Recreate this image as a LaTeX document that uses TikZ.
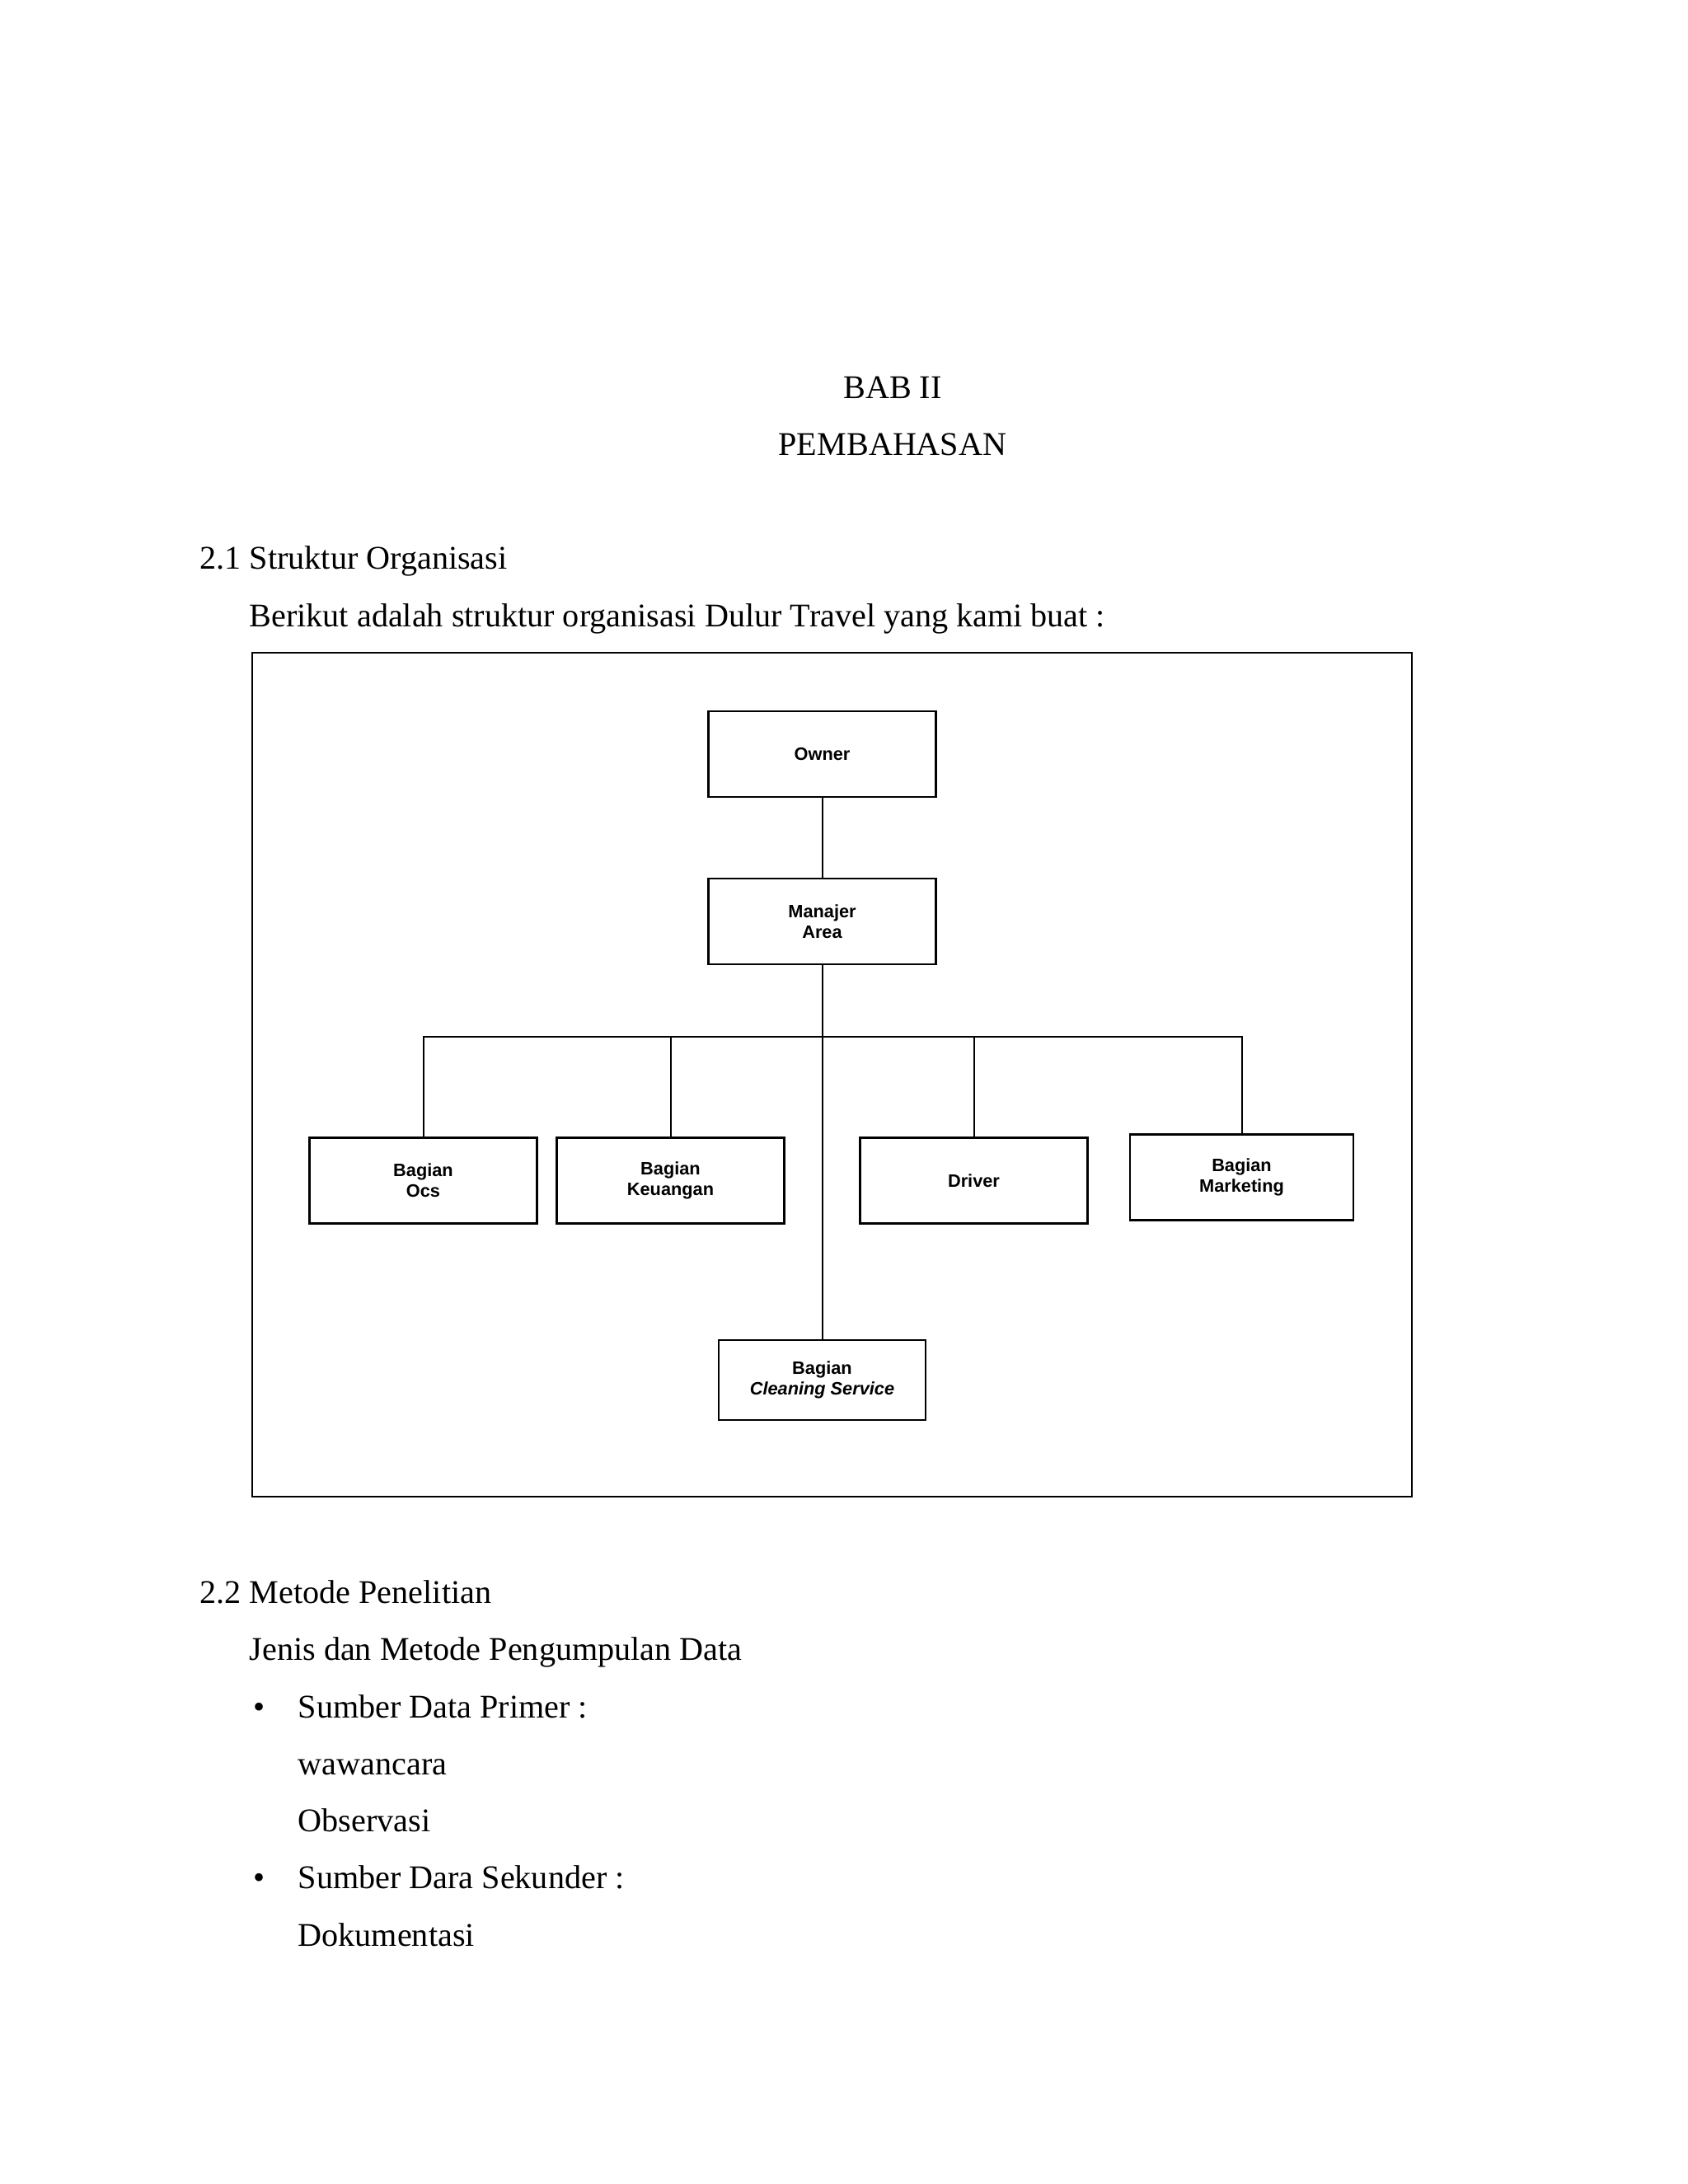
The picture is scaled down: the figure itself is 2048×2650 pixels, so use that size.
\documentclass[tikz,border=0pt]{standalone}
\usepackage{fontspec}
\setmainfont{Liberation Serif}
\newfontfamily\chartfont{Liberation Sans}
\usetikzlibrary{positioning}

\tikzset{
  unit/.style={draw, line width=0.7pt, minimum width=82.5pt, minimum height=31pt,
    align=center, inner sep=1pt, font=\chartfont\bfseries\fontsize{6.5}{7.5}\selectfont},
  body/.style={anchor=base west, inner sep=0pt, font=\fontsize{12}{14}\selectfont},
  title/.style={anchor=base, inner sep=0pt, font=\fontsize{12}{14}\selectfont},
}

\begin{document}
\begin{tikzpicture}[x=0.298828pt, y=-0.298828pt]
  \useasboundingbox (0, 0) rectangle (2048, 2650);

  % page heading
  \node[title] (bab) at (1083, 483) {BAB II};
  \node[title] (pembahasan) at (1083, 552) {PEMBAHASAN};

  \node[body] (sec21) at (242, 690) {2.1 Struktur Organisasi};
  \node[body] (intro) at (302, 760) {Berikut adalah struktur organisasi Dulur Travel yang kami buat :};

  % frame round the chart
  \draw[line width=0.6pt] (306, 792) rectangle (1713, 1816);

  % chart
  \node[unit] (owner) at (997.5, 915) {Owner};
  \node[unit] (manajer) at (997.5, 1118) {Manajer\\Area};
  \node[unit] (ocs) at (513.5, 1432.5) {Bagian\\Ocs};
  \node[unit] (keuangan) at (813.5, 1432.5) {Bagian\\Keuangan};
  \node[unit] (driver) at (1181.5, 1432.5) {Driver};
  \node[unit, minimum width=81pt] (marketing) at (1506.5, 1428.5) {Bagian\\Marketing};
  \node[unit, minimum width=75pt, minimum height=29pt] (cleaning) at (997.5, 1674.5) {Bagian\\\textit{Cleaning Service}};

  \coordinate (bus) at (997.5, 1258);

  \draw[line width=0.6pt] (owner) -- (manajer);
  \draw[line width=0.6pt] (manajer) -- (cleaning);
  \draw[line width=0.6pt] (ocs.north) |- (bus) -| (marketing.north);
  \foreach \n in {keuangan, driver} {
    \draw[line width=0.6pt] (\n.north) -- (\n.north |- bus);
  }

  % method section
  \node[body] (sec22) at (242, 1945) {2.2 Metode Penelitian};
  \node[body] (jenis) at (302, 2014) {Jenis dan Metode Pengumpulan Data};
  \node[body] (dot1) at (307, 2084) {\textbullet};
  \node[body] (primer) at (361, 2084) {Sumber Data Primer :};
  \node[body] (wawancara) at (361, 2153) {wawancara};
  \node[body] (observasi) at (361, 2222) {Observasi};
  \node[body] (dot2) at (307, 2291) {\textbullet};
  \node[body] (sekunder) at (361, 2291) {Sumber Dara Sekunder :};
  \node[body] (dokumentasi) at (361, 2361) {Dokumentasi};
\end{tikzpicture}
\end{document}
